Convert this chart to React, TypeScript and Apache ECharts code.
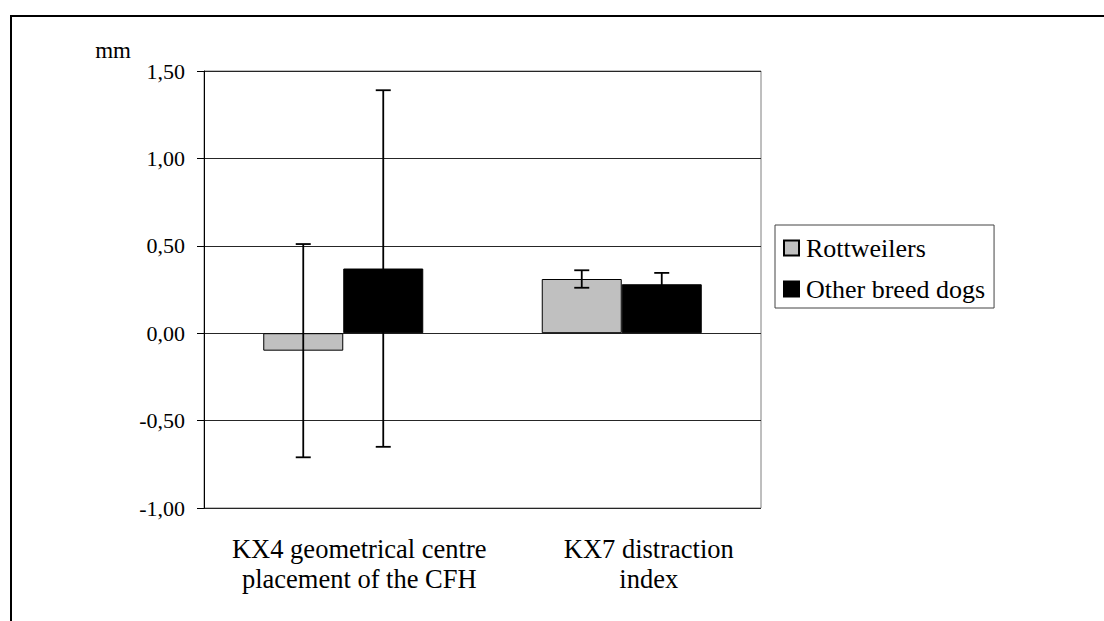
import React, { useEffect, useRef } from "react";
import * as echarts from "echarts";

// Measurements (mm) with their standard deviations
const CATEGORIES = ["KX4 geometrical centre\nplacement of the CFH", "KX7 distraction\nindex"];
const SERIES_NAMES = ["Rottweilers", "Other breed dogs"];
const ROTTWEILER_MEANS = [-0.1, 0.31];
const ROTTWEILER_SD = [0.61, 0.05];
const OTHER_MEANS = [0.37, 0.28];
const OTHER_SD = [1.02, 0.065];

const Y_MIN = -1;
const Y_MAX = 1.5;
const Y_STEP = 0.5;

const FONT = "'Liberation Serif', 'Times New Roman', serif";
const BAR_WIDTH = 80;
const CAP_WIDTH = 15;
// horizontal nudge of each category label (px of left padding)
const LABEL_SHIFT = [32, 54];

function errorBars(name: string, means: number[], sds: number[], offset: number) {
  return {
    type: "custom",
    name,
    z: 10,
    silent: true,
    data: means.map((m, i) => [i, m, sds[i]]),
    encode: { x: 0, y: 1 },
    renderItem: (_params: any, api: any) => {
      const cat = api.value(0);
      const mean = api.value(1);
      const sd = api.value(2);
      const top = api.coord([cat, mean + sd]);
      const bottom = api.coord([cat, mean - sd]);
      const x = top[0] + offset;
      const h = CAP_WIDTH / 2;
      const style = { stroke: "#000", lineWidth: 1.8 };
      return {
        type: "group",
        children: [
          { type: "line", shape: { x1: x, y1: top[1], x2: x, y2: bottom[1] }, style },
          { type: "line", shape: { x1: x - h, y1: top[1], x2: x + h, y2: top[1] }, style },
          { type: "line", shape: { x1: x - h, y1: bottom[1], x2: x + h, y2: bottom[1] }, style },
        ],
      };
    },
  };
}

export default function App() {
  const ref = useRef<HTMLDivElement>(null);

  useEffect(() => {
    if (!ref.current) return;
    const chart = echarts.init(ref.current, null, { renderer: "svg" });

    const rich: Record<string, any> = {};
    LABEL_SHIFT.forEach((p, i) => {
      rich["c" + i] = {
        fontFamily: FONT,
        fontSize: 26.5,
        lineHeight: 30,
        color: "#000",
        padding: [0, 0, 0, p],
      };
    });

    chart.setOption({
      animation: false,
      backgroundColor: "#fff",
      textStyle: { fontFamily: FONT, color: "#000" },
      grid: {
        left: 204,
        top: 71,
        width: 557,
        height: 437,
        show: true,
        borderColor: "#7f7f7f",
        borderWidth: 1,
        backgroundColor: "transparent",
      },
      legend: {
        data: SERIES_NAMES.map((name) => ({ name, icon: "rect" })),
        orient: "vertical",
        left: 775,
        top: 225,
        itemWidth: 15,
        itemHeight: 15,
        itemGap: 15,
        padding: [10, 9, 6, 8],
        borderColor: "#444",
        borderWidth: 1,
        selectedMode: false,
        textStyle: {
          fontFamily: FONT,
          fontSize: 26,
          lineHeight: 26,
          color: "#000",
          padding: [0, 0, 0, 2],
        },
      },
      xAxis: {
        type: "category",
        data: CATEGORIES,
        axisLine: { show: false, onZero: false },
        axisTick: { show: false },
        splitLine: { show: false },
        axisLabel: {
          margin: 26,
          interval: 0,
          fontFamily: FONT,
          formatter: (value: string, index: number) =>
            value
              .split("\n")
              .map((line) => `{c${index}|${line}}`)
              .join("\n"),
          rich,
        },
      },
      yAxis: {
        type: "value",
        min: Y_MIN,
        max: Y_MAX,
        interval: Y_STEP,
        name: "mm",
        nameLocation: "end",
        nameGap: 21,
        nameTextStyle: {
          fontFamily: FONT,
          fontSize: 23,
          color: "#000",
          align: "right",
          verticalAlign: "middle",
          padding: [0, 73, 0, 0],
        },
        axisLine: { show: true, lineStyle: { color: "#000", width: 1 } },
        axisTick: { show: true, length: 7, inside: false, lineStyle: { color: "#000" } },
        splitLine: { show: true, lineStyle: { color: "#262626", width: 1 } },
        axisLabel: {
          margin: 19,
          fontFamily: FONT,
          fontSize: 22,
          color: "#000",
          formatter: (v: number) => v.toFixed(2).replace(".", ","),
        },
      },
      series: [
        {
          type: "bar",
          name: SERIES_NAMES[0],
          data: ROTTWEILER_MEANS,
          barWidth: BAR_WIDTH,
          barGap: "0%",
          itemStyle: { color: "#c0c0c0", borderColor: "#000", borderWidth: 1 },
        },
        {
          type: "bar",
          name: SERIES_NAMES[1],
          data: OTHER_MEANS,
          barWidth: BAR_WIDTH,
          barGap: "0%",
          itemStyle: { color: "#000", borderColor: "#000", borderWidth: 1 },
        },
        errorBars("Rottweilers SD", ROTTWEILER_MEANS, ROTTWEILER_SD, -BAR_WIDTH / 2),
        errorBars("Other breed dogs SD", OTHER_MEANS, OTHER_SD, BAR_WIDTH / 2),
      ],
      graphic: [
        {
          type: "polyline",
          silent: true,
          shape: { points: [[11, 621], [11, 16], [1104, 16]] },
          style: { stroke: "#000", lineWidth: 2, fill: "none" },
        },
      ],
    });

    return () => chart.dispose();
  }, []);

  return (
    <div
      ref={ref}
      style={{ position: "fixed", left: 0, top: 0, width: 1104, height: 621, background: "#fff" }}
    />
  );
}
